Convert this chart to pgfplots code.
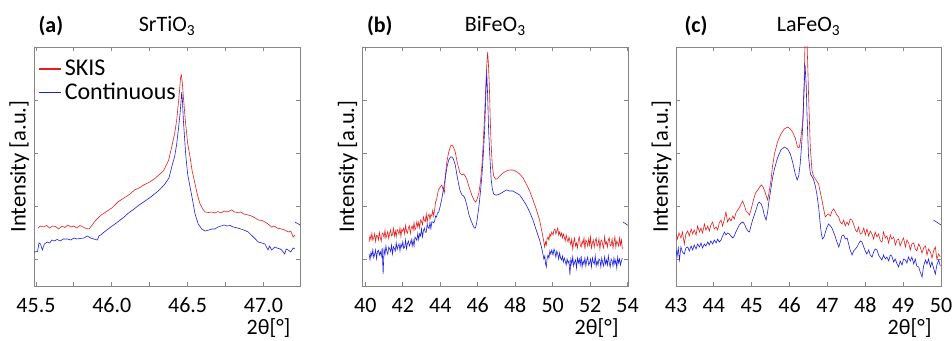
\documentclass[border=0pt]{standalone}
\usepackage{fontspec}
\setmainfont{Carlito}
\usepackage{pgfplots}
\pgfplotsset{compat=1.18}
\definecolor{skis}{RGB}{228,30,30}
\definecolor{cont}{RGB}{30,30,225}
\definecolor{frame}{RGB}{135,135,135}
\newcommand{\fsz}{\fontsize{22}{26}\selectfont}
\pgfplotsset{
  xrd/.style={
    scale only axis, height=239pt,
    ymin=0, ymax=239,
    ytick={27,80,133,186}, yticklabels={},
    axis line style={frame, line width=0.8pt},
    tick style={frame, line width=0.8pt},
    major tick length=4pt, minor tick length=4pt,
    tick align=inside,
    clip mode=individual,
    /pgf/number format/assume math mode=true,
    ticklabel style={font=\fsz},
    xticklabel style={anchor=base, yshift=-26pt},
    xlabel={2θ[°]},
    xlabel style={at={(axis description cs:1,0)}, anchor=base east, yshift=-48.7pt, xshift=-6pt, font=\fsz},
    ylabel={Intensity [a.u.]},
    ylabel style={at={(axis description cs:-0.055,0.5)}, anchor=center, font=\fontsize{22.5}{26}\selectfont},
    title style={at={(axis description cs:0.5,1)}, anchor=base, yshift=9pt, font=\fsz},
    every axis plot/.append style={line width=0.6pt},
  }
}
\begin{document}
\begin{tikzpicture}
\useasboundingbox (0pt,0pt) rectangle (952pt,340pt);
% ---------------- (a) SrTiO3
\begin{axis}[xrd, at={(34pt,54pt)}, anchor=south west, width=266pt,
  xmin=45.487, xmax=47.241,
  xtick={45.5,46,46.5,47}, xticklabels={45.5,46.0,46.5,47.0},
  minor xtick={45.75,46.25,46.75},
  title={SrTiO\textsubscript{3}},
  legend style={draw=none, fill=none, inner sep=0pt, at={(axis description cs:0.015,0.958)}, anchor=north west,
    font=\fontsize{24}{24}\selectfont, nodes={inner sep=3pt}, cells={anchor=west}},
  legend image code/.code={\draw[#1, line width=1.6pt] (0pt,0pt) -- (22pt,0pt);},
]
\addplot[skis] coordinates {
(45.514,58)(45.53,60)(45.55,59)(45.57,60.5)(45.59,58)(45.61,60)(45.63,59.5)(45.65,57)(45.67,60)(45.69,58.5)
(45.71,61)(45.73,59)(45.75,60)(45.77,58)(45.79,60.5)(45.81,59)(45.83,57.5)(45.85,57)(45.87,61)(45.89,65)
(45.91,68)(45.93,71)(45.95,73)(45.97,75)(46.00,78)(46.02,81)(46.04,84)(46.06,86)(46.08,88)(46.10,90)
(46.12,92)(46.15,96)(46.18,98)(46.21,101)(46.25,104)(46.28,107)(46.31,111)(46.34,115)(46.36,121)(46.375,126)
(46.395,139)(46.415,153)(46.428,166)(46.443,189)(46.454,209)(46.459,211)(46.465,203)(46.472,189)(46.487,162)(46.50,143)
(46.516,129)(46.53,115)(46.549,102)(46.565,91)(46.582,82)(46.60,77)(46.615,74)(46.64,73.5)(46.66,74)(46.68,73)
(46.70,74.5)(46.72,73)(46.74,75)(46.76,74)(46.79,76)(46.81,74)(46.83,73.5)(46.85,74)(46.87,72)(46.90,71)
(46.92,70)(46.94,68.5)(46.966,66)(46.99,65.5)(47.01,64)(47.03,62)(47.054,59)(47.07,60)(47.09,58)(47.12,57)
(47.14,56)(47.163,54)(47.18,55)(47.196,49)(47.207,51)
};
\addlegendentry{SKIS}
\addplot[cont] coordinates {
(45.487,34)(45.51,34.5)(45.520,43)(45.53,42)(45.542,36)(45.555,42)(45.575,44)(45.59,43)(45.605,46)(45.619,45)
(45.64,46.5)(45.66,45)(45.68,47)(45.707,47)(45.73,46)(45.75,48)(45.77,47)(45.79,47.5)(45.817,48)(45.839,50)
(45.86,48)(45.88,47)(45.905,46)(45.915,50)(45.927,51)(45.95,54)(45.993,59)(46.03,63)(46.081,69)(46.11,73)
(46.147,77)(46.18,81)(46.21,84)(46.257,89)(46.29,93)(46.32,97)(46.35,102)(46.377,108)(46.395,119)(46.415,130)
(46.428,142)(46.44,158)(46.450,172)(46.461,194)(46.466,185)(46.472,166)(46.487,132)(46.50,112)(46.516,99)(46.53,88)
(46.549,72)(46.57,62)(46.593,57)(46.615,55)(46.64,56)(46.66,57)(46.68,57)(46.70,59)(46.72,60)(46.74,61)
(46.76,60)(46.78,60.5)(46.80,59)(46.83,58)(46.85,57)(46.87,56)(46.90,54)(46.92,51)(46.94,48)(46.966,44)
(46.99,43)(47.01,42)(47.03,36)(47.04,40)(47.054,36)(47.076,39)(47.09,38)(47.11,37)(47.12,36)(47.14,32)
(47.15,37)(47.163,36)(47.18,34)(47.196,38)(47.207,37)
};
\addlegendentry{Continuous}
\addplot[cont, forget plot] coordinates {(47.208,64)(47.241,61)};
\node[anchor=base west, font=\bfseries\fsz, xshift=1pt, yshift=14pt] at (rel axis cs:0,1) {(a)};
\end{axis}
% ---------------- (b) BiFeO3
\begin{axis}[xrd, at={(362.5pt,54pt)}, anchor=south west, width=265.5pt,
  xmin=39.85, xmax=54.02,
  xtick={40,42,...,54},
  title={BiFeO\textsubscript{3}},
]
\addplot[skis] coordinates {
(40.20,44)(40.25,50.2)(40.30,46.4)(40.35,52.7)(40.40,45.9)(40.45,48.1)(40.50,52.3)(40.55,44.5)(40.60,50.7)(40.65,50)
(40.70,46.2)(40.75,53.4)(40.80,48.6)(40.85,44.8)(40.90,53)(40.95,52.3)(41.00,48.5)(41.05,55.7)(41.10,47.9)(41.15,51.1)
(41.20,54.4)(41.25,47.6)(41.30,52.8)(41.35,56)(41.40,50.2)(41.45,51.4)(41.50,57.7)(41.55,49.9)(41.60,55.1)(41.65,49.3)
(41.70,56.5)(41.75,54.7)(41.80,52)(41.85,58.2)(41.90,49.4)(41.95,56.6)(42.00,54.8)(42.05,58)(42.10,52.3)(42.15,60.5)
(42.20,54.7)(42.25,52.9)(42.30,58.1)(42.35,60.3)(42.40,52.6)(42.45,57.8)(42.50,60)(42.55,55.7)(42.60,63.3)(42.65,56)
(42.70,58.7)(42.75,64.3)(42.80,59)(42.85,63.7)(42.90,58.3)(42.95,66)(43.00,64.7)(43.05,61.3)(43.10,69)(43.15,65.6)
(43.20,64.3)(43.25,72)(43.30,63.6)(43.35,70.3)(43.40,72)(43.45,66.6)(43.50,71.3)(43.55,70)(43.60,75.6)(43.65,70.3)
(43.70,76)(43.75,84)(43.80,86)(43.85,91)(43.90,96)(44.00,99)(44.08,101)(44.16,96)(44.22,93)(44.27,110)
(44.35,124)(44.45,134)(44.55,140)(44.62,141)(44.70,139)(44.80,134)(44.90,124)(44.98,118)(45.05,113)(45.16,111)
(45.25,112)(45.33,110)(45.43,106)(45.52,100)(45.61,95)(45.70,90)(45.80,86)(45.88,84)(45.95,86)(46.06,93)
(46.15,105)(46.23,122)(46.30,146)(46.37,172)(46.44,205)(46.48,220)(46.53,234)(46.57,222)(46.62,200)(46.67,165)
(46.72,139)(46.78,120)(46.85,110)(46.95,107)(47.03,107)(47.17,110)(47.35,113)(47.53,115)(47.70,116)(47.88,116)
(48.05,114.5)(48.24,112)(48.42,108)(48.59,102)(48.77,95)(48.95,86)(49.12,77)(49.30,66)(49.40,57)(49.48,49)
(49.53,44)(49.57,39)(49.62,44)(49.66,41)(49.70,47)(49.75,49)(49.80,46)(49.85,52)(49.90,50)(49.95,54)
(50.02,51)(50.07,56)(50.12,57)(50.17,52)(50.22,55)(50.27,58)(50.32,51)(50.37,54)(50.42,50)(50.47,53)
(50.52,48)(50.57,52)(50.62,49)(50.67,45)(50.72,51)(50.77,47)(50.82,44)(50.87,49)(50.92,45)
(50.97,41)(51.02,47)(51.07,37)(51.12,44)(51.17,48)(51.22,40)(51.27,43)(51.32,38)(51.37,46)(51.42,49)
(51.47,41)(51.52,39)(51.57,45)(51.62,42)(51.67,48)(51.72,37)(51.77,46)(51.82,44)(51.87,40)(51.92,47)
(51.97,41)(52.02,49)(52.07,38)(52.12,43)(52.17,46)(52.22,39)(52.27,45)(52.32,48)(52.37,40)(52.42,42)
(52.47,47)(52.52,37)(52.57,45)(52.62,46)(52.67,41)(52.72,38)(52.77,49)(52.82,42)(52.87,44)(52.92,39)
(52.97,46)(53.02,48)(53.07,40)(53.12,41)(53.17,47)(53.22,38)(53.27,44)(53.32,49)(53.37,39)(53.42,45)
(53.47,43)(53.52,40)(53.57,48)(53.62,41)(53.67,46)(53.72,37)
};
\addplot[cont] coordinates {
(40.20,32)(40.25,26.3)(40.30,33.6)(40.35,29.8)(40.40,36.1)(40.45,28.4)(40.50,31.7)(40.55,36)(40.60,27.3)(40.65,34.5)
(40.70,35.8)(40.75,31.1)(40.80,34.4)(40.85,29.7)(40.90,38)(40.95,12)(41.00,36.5)(41.05,31.8)(41.10,40.1)(41.15,34.4)
(41.20,31.7)(41.25,38.9)(41.30,37.2)(41.35,34.5)(41.40,40.8)(41.45,32.1)(41.50,39.3)(41.55,37.6)(41.60,34.9)(41.65,43.2)
(41.70,36.5)(41.75,39.8)(41.80,42)(41.85,35.3)(41.90,41.6)(41.95,38.9)(42.00,44.2)(42.05,37.5)(42.10,38.7)(42.15,46)
(42.20,37.3)(42.25,42.6)(42.30,44.9)(42.35,40.1)(42.40,42.4)(42.45,46.7)(42.50,40)(42.55,45.9)(42.60,39.8)(42.65,48.7)
(42.70,47.7)(42.75,45.6)(42.80,52.5)(42.85,46.4)(42.90,52.3)(42.95,50.2)(43.00,57.2)(43.05,49.1)(43.10,55)(43.15,57.9)
(43.20,53.8)(43.25,53.7)(43.30,61.6)(43.35,58.6)(43.40,57.5)(43.45,63.4)(43.50,57.3)(43.55,64.2)(43.60,64.1)(43.65,63.1)
(43.70,65)(43.75,70)(43.80,69)(43.85,73)(43.92,74)(44.00,80)(44.09,88)(44.18,98)(44.27,108)(44.36,119)
(44.45,126)(44.55,129)(44.62,129)(44.70,127)(44.80,121)(44.90,110)(44.98,102)(45.06,95)(45.16,91)(45.25,90)
(45.33,87)(45.43,80)(45.52,72)(45.63,66)(45.74,61)(45.82,58)(45.88,58)(45.95,64)(46.06,79)(46.15,95)
(46.23,112)(46.30,132)(46.37,156)(46.42,185)(46.48,214)(46.53,190)(46.58,156)(46.65,128)(46.72,106)(46.78,97)
(46.85,92)(46.95,91)(47.03,91)(47.17,92)(47.35,94)(47.53,96)(47.70,95)(47.88,95)(48.05,93)(48.24,91)
(48.42,86)(48.59,81)(48.77,74)(48.95,66)(49.12,56)(49.30,46)(49.40,39)(49.48,32)(49.53,27)(49.58,30)
(49.62,22)(49.66,19)(49.70,27)(49.75,31)(49.80,28)(49.85,35)(49.90,32)(49.95,36)(50.02,31)(50.07,37)
(50.12,34)(50.17,29)(50.22,35)(50.27,32)(50.32,27)(50.37,33)(50.42,28)(50.47,26)(50.52,30)(50.57,24)
(50.62,28)(50.67,25)(50.72,21)(50.77,27)(50.82,23)(50.87,25)(50.92,11)
(50.97,27)(51.02,22)(51.07,29)(51.12,20)(51.17,24)(51.22,26)(51.27,18)(51.32,28)(51.37,23)(51.42,27)
(51.47,21)(51.52,30)(51.57,19)(51.62,25)(51.67,22)(51.72,28)(51.77,20)(51.82,26)(51.87,29)(51.92,21)
(51.97,23)(52.02,27)(52.07,19)(52.12,28)(52.17,24)(52.22,22)(52.27,30)(52.32,20)(52.37,25)(52.42,21)
(52.47,27)(52.52,26)(52.57,19)(52.62,28)(52.67,23)(52.72,20)(52.77,29)(52.82,22)(52.87,26)(52.92,21)
(52.97,30)(53.02,23)(53.07,19)(53.12,27)(53.17,25)(53.22,20)(53.27,28)(53.32,22)(53.37,26)(53.42,18)
(53.47,29)(53.52,23)(53.57,27)(53.62,21)(53.67,25)(53.72,28)
};
\addplot[cont, forget plot] coordinates {(53.75,64)(54.02,60.7)};
\node[anchor=base west, font=\bfseries\fsz, xshift=1pt, yshift=14pt] at (rel axis cs:0,1) {(b)};
\end{axis}
% ---------------- (c) LaFeO3
\begin{axis}[xrd, at={(676pt,54pt)}, anchor=south west, width=265pt,
  xmin=43, xmax=50,
  xtick={43,...,50},
  title={LaFeO\textsubscript{3}},
]
\addplot[skis] coordinates {
(43.00,52)(43.04,47)(43.08,53)(43.13,48)(43.17,54)(43.22,42)(43.26,52)(43.31,55)(43.35,50)(43.40,57)
(43.44,52)(43.48,56)(43.53,51)(43.57,60)(43.62,54)(43.66,58)(43.70,53)(43.75,62)(43.79,56)(43.84,60)
(43.88,55)(43.92,61)(43.97,64)(44.01,57)(44.06,59)(44.10,56)(44.14,63)(44.19,66)(44.23,60)(44.28,67)
(44.32,74)(44.36,64)(44.41,68)(44.45,65)(44.50,70)(44.54,67)(44.58,73)(44.63,76)(44.67,78)(44.72,82)
(44.76,85)(44.81,80)(44.85,75)(44.90,73)(44.94,71)(44.98,76)(45.02,82)(45.06,88)(45.10,93)(45.16,96)
(45.21,99)(45.26,101)(45.30,99)(45.35,94)(45.42,86)(45.46,94)(45.51,106)(45.55,120)(45.60,132)(45.68,144)
(45.77,152)(45.86,157)(45.95,159)(46.02,157)(46.08,154)(46.15,148)(46.21,139)(46.25,138)(46.28,143)(46.32,155)
(46.35,166)(46.38,195)(46.40,232)(46.42,250)(46.44,258)(46.46,245)(46.48,220)(46.503,189)(46.547,139)(46.59,116)
(46.63,110)(46.68,107)(46.72,105)(46.767,102)(46.81,94)(46.855,86)(46.90,77)(46.943,69)(46.99,71)(47.03,72)
(47.08,70)(47.12,75)(47.164,77)(47.21,74)(47.25,71)(47.296,69)(47.34,64)(47.384,62)(47.43,66)(47.47,60)
(47.516,64)(47.56,61)(47.60,67)(47.648,66)(47.69,62)(47.74,56)(47.78,54)(47.82,59)(47.87,52)(47.912,53)
(47.96,58)(48.00,51)(48.044,57)(48.09,50)(48.13,55)(48.177,52)(48.22,47)(48.26,54)(48.309,49)(48.35,52)
(48.40,45)(48.441,44)(48.48,54)(48.53,48)(48.57,50)(48.617,43)(48.66,51)(48.70,47)(48.75,49)(48.793,41)
(48.84,46)(48.88,47)(48.92,40)(48.969,45)(49.01,48)(49.06,39)(49.10,46)(49.145,43)(49.19,36)(49.23,42)
(49.28,43)(49.321,37)(49.36,35)(49.41,42)(49.45,39)(49.498,33)(49.54,38)(49.59,40)(49.63,31)(49.67,37)
(49.72,34)(49.762,28)(49.81,36)(49.85,39)(49.89,27)(49.94,32)(49.98,29)
};
\addplot[cont] coordinates {
(43.00,36)(43.03,30)(43.06,38)(43.09,26)(43.13,39)(43.17,34)(43.22,32)(43.26,38)(43.31,39)(43.35,35)
(43.40,40)(43.44,36)(43.48,41)(43.53,37)(43.57,42)(43.62,39)(43.66,43)(43.70,38)(43.75,42)(43.79,40)
(43.84,44)(43.88,41)(43.92,45)(43.97,42)(44.01,46)(44.06,43)(44.10,47)(44.14,44)(44.19,46)(44.23,50)
(44.28,54)(44.32,51)(44.36,53)(44.41,52)(44.45,50)(44.50,48)(44.54,50)(44.58,54)(44.63,58)(44.67,61)
(44.72,63)(44.76,64)(44.81,62)(44.85,58)(44.90,55)(44.94,54)(44.98,60)(45.03,67)(45.07,71)(45.12,77)
(45.16,82)(45.20,84)(45.25,82)(45.29,78)(45.33,71)(45.38,66)(45.42,74)(45.46,86)(45.51,98)(45.55,108)
(45.60,117)(45.68,128)(45.77,136)(45.86,139)(45.95,137)(46.02,132)(46.08,124)(46.15,112)(46.20,106)(46.24,110)
(46.28,122)(46.32,142)(46.35,162)(46.38,195)(46.41,221)(46.44,200)(46.46,172)(46.50,130)(46.55,112)(46.63,107)
(46.68,100)(46.72,92)(46.77,78)(46.81,62)(46.84,52)(46.87,47)(46.91,49)(46.94,53)(46.98,58)(47.03,62)
(47.08,60)(47.12,58)(47.17,53)(47.21,49)(47.25,44)(47.30,39)(47.34,44)(47.38,50)(47.43,51)(47.47,47)
(47.52,48)(47.56,42)(47.60,36)(47.65,31)(47.69,35)(47.74,37)(47.78,39)(47.82,42)(47.87,45)(47.91,44)
(47.96,39)(48.00,35)(48.04,32)(48.09,36)(48.13,31)(48.18,29)(48.22,34)(48.26,37)(48.31,36)(48.35,31)
(48.40,28)(48.44,26)(48.48,31)(48.53,27)(48.57,29)(48.62,25)(48.66,31)(48.70,30)(48.75,24)(48.79,27)
(48.84,22)(48.88,19)(48.92,25)(48.97,21)(49.01,27)(49.06,26)(49.10,23)(49.14,29)(49.19,25)(49.23,29)
(49.28,22)(49.32,27)(49.36,20)(49.41,19)(49.45,14)(49.50,9)(49.54,20)(49.59,26)(49.63,22)(49.67,27)
(49.72,19)(49.76,24)(49.81,17)(49.85,12)(49.89,21)(49.94,26)(49.98,20)
};
\addplot[cont, forget plot] coordinates {(49.80,66)(50,61)};
\node[anchor=base west, font=\bfseries\fsz, xshift=5pt, yshift=14pt] at (rel axis cs:0,1) {(c)};
\end{axis}
\end{tikzpicture}
\end{document}
